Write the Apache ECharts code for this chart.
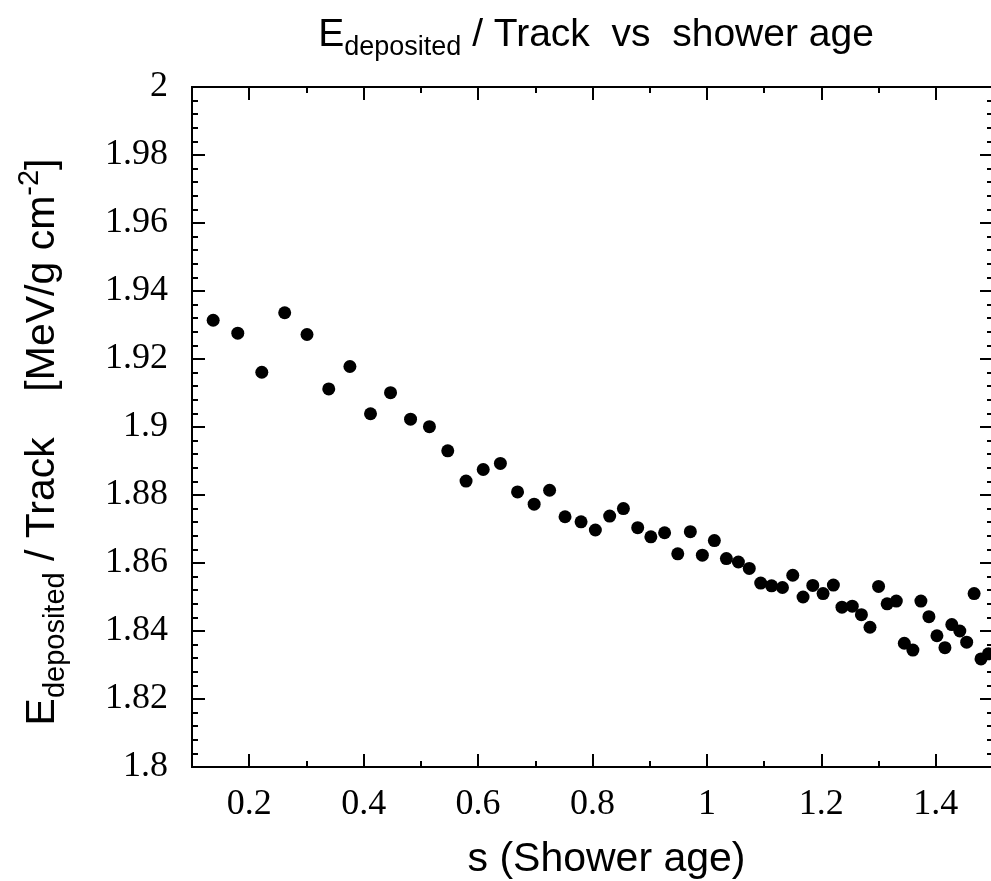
<!DOCTYPE html>
<html>
<head>
<meta charset="utf-8">
<title>Edeposited / Track vs shower age</title>
<script src="https://cdn.jsdelivr.net/npm/echarts@6/dist/echarts.min.js"></script>
<style>
  html, body { margin: 0; padding: 0; background: #fff; }
  #chart { width: 991px; height: 881px; }
</style>
</head>
<body>
<div id="chart"></div>
<script>
// shower age s
var showerAge = [
  0.137, 0.180, 0.222, 0.262, 0.301, 0.339, 0.376, 0.412, 0.447, 0.482,
  0.515, 0.547, 0.579, 0.609, 0.639, 0.669, 0.698, 0.725, 0.752, 0.780,
  0.805, 0.830, 0.854, 0.879, 0.902, 0.926, 0.949, 0.971, 0.992, 1.013,
  1.034, 1.055, 1.074, 1.094, 1.113, 1.132, 1.150, 1.168, 1.185, 1.203,
  1.221, 1.236, 1.254, 1.270, 1.285, 1.300, 1.315, 1.331, 1.345, 1.360,
  1.374, 1.388, 1.402, 1.416, 1.428, 1.442, 1.454, 1.467, 1.479, 1.492
];
// deposited energy per track [MeV/g cm-2]
var energyPerTrack = [
  1.9314, 1.9276, 1.9161, 1.9336, 1.9272, 1.9112, 1.9178, 1.9039, 1.9101, 1.9023,
  1.9001, 1.8930, 1.8841, 1.8875, 1.8893, 1.8809, 1.8773, 1.8814, 1.8736, 1.8721,
  1.8697, 1.8738, 1.8760, 1.8704, 1.8677, 1.8689, 1.8627, 1.8692, 1.8623, 1.8666,
  1.8613, 1.8603, 1.8584, 1.8541, 1.8533, 1.8528, 1.8564, 1.8500, 1.8534, 1.8510,
  1.8535, 1.8470, 1.8473, 1.8448, 1.8411, 1.8531, 1.8480, 1.8488, 1.8364, 1.8344,
  1.8488, 1.8442, 1.8386, 1.8351, 1.8419, 1.8400, 1.8367, 1.8510, 1.8318, 1.8333
];
var xRange = [0.1, 1.5];
var xMinorStep = 0.1;
var yRange = [1.8, 2.0];
var yStep = 0.02;

var points = showerAge.map(function (s, i) {
  return [s, energyPerTrack[i]];
});

var chart = echarts.init(document.getElementById("chart"));

var sans = "Liberation Sans";
var serif = "Liberation Serif";

function richStyles(size) {
  var small = Math.round(size * 0.7);
  return {
    n: { fontFamily: sans, fontSize: size, color: "#000", padding: [7, 0, 7, 0] },
    sub: { fontFamily: sans, fontSize: small, color: "#000", verticalAlign: "bottom" },
    sup: { fontFamily: sans, fontSize: small, color: "#000", verticalAlign: "top" },
  };
}

function black() {
  return { color: "#000", width: 2 };
}

function plotRect() {
  return {
    left: 192, top: 87, width: 801, height: 680,
    containLabel: false,
    outerBoundsMode: "none",
  };
}

function xAxisBase(gridIndex, pos, tickLen, interval) {
  var ax = {
    type: "value",
    gridIndex: gridIndex,
    position: pos,
    min: xRange[0],
    max: xRange[1],
    axisLine: { show: true, onZero: false, lineStyle: black() },
    axisTick: { show: true, inside: true, length: tickLen, lineStyle: black() },
    axisLabel: { show: false },
    splitLine: { show: false },
  };
  if (interval) {
    ax.interval = interval;
  } else {
    ax.splitNumber = 7;
  }
  return ax;
}

function yAxisBase(gridIndex, pos, showTicks) {
  return {
    type: "value",
    gridIndex: gridIndex,
    position: pos,
    min: yRange[0],
    max: yRange[1],
    interval: yStep,
    axisLine: { show: showTicks, onZero: false, lineStyle: black() },
    axisTick: { show: showTicks, inside: true, length: 13, lineStyle: black() },
    minorTick: { show: showTicks, splitNumber: 5, length: 6, lineStyle: black() },
    axisLabel: { show: false },
    splitLine: { show: false },
  };
}

// grid 0: main axes with labels
var xMain = xAxisBase(0, "bottom", 13);
xMain.axisLabel = {
  show: true,
  showMinLabel: false,
  showMaxLabel: false,
  margin: 20,
  color: "#000",
  fontFamily: serif,
  fontSize: 36,
};
xMain.name = "s (Shower age)";
xMain.nameLocation = "middle";
xMain.nameGap = 72;
xMain.nameTextStyle = { fontFamily: sans, fontSize: 41, color: "#000", padding: [0, 0, 0, 28] };

var yMain = yAxisBase(0, "left", true);
yMain.axisLabel = {
  show: true,
  margin: 24,
  color: "#000",
  fontFamily: serif,
  fontSize: 36,
};
yMain.name = "{n|E}{sub|deposited}{n| / Track    [MeV/g cm}{sup|-2}{n|]}";
yMain.nameLocation = "middle";
yMain.nameGap = 122;
yMain.nameTextStyle = { rich: richStyles(41), padding: [0, 30, 0, 0] };

// invisible copy of the data so the mirror / minor-tick axes get a scale
function helperSeries(xi, yi) {
  return {
    type: "scatter",
    xAxisIndex: xi,
    yAxisIndex: yi,
    data: points,
    symbolSize: 0,
    silent: true,
    itemStyle: { opacity: 0 },
  };
}

var option = {
  animation: false,
  backgroundColor: "#fff",
  grid: [plotRect(), plotRect()],
  graphic: [
    {
      type: "text",
      x: 596,
      y: 35,
      style: {
        text: "{n|E}{sub|deposited}{n| / Track  vs  shower age}",
        rich: richStyles(39),
        align: "center",
        verticalAlign: "middle",
      },
    },
  ],
  xAxis: [
    xMain,
    xAxisBase(0, "top", 13),
    xAxisBase(1, "bottom", 6, xMinorStep),
    xAxisBase(1, "top", 6, xMinorStep),
  ],
  yAxis: [yMain, yAxisBase(0, "right", true), yAxisBase(1, "left", false)],
  series: [
    {
      type: "scatter",
      xAxisIndex: 0,
      yAxisIndex: 0,
      data: points,
      symbol: "circle",
      symbolSize: 13,
      itemStyle: { color: "#000", opacity: 1 },
      z: 5,
    },
    helperSeries(1, 1),
    helperSeries(2, 2),
    helperSeries(3, 2),
  ],
};
chart.setOption(option);
</script>
</body>
</html>
